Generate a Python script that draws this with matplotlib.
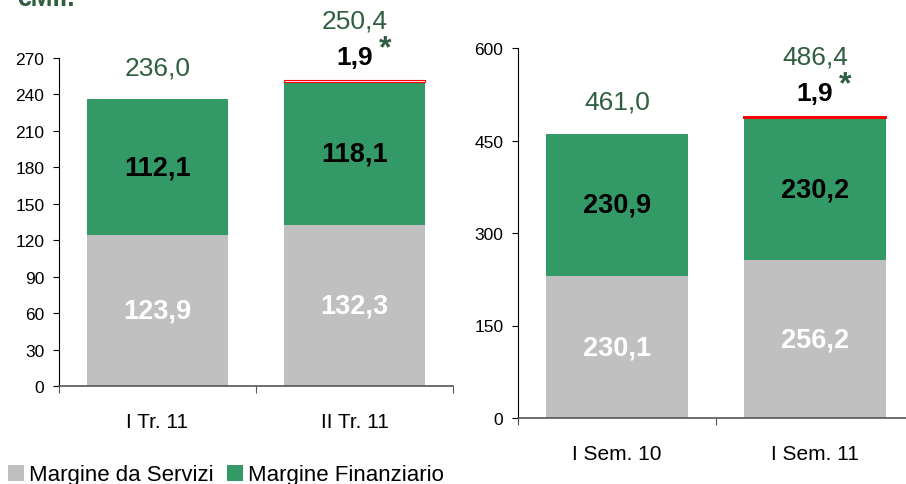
import matplotlib
matplotlib.use("Agg")
import matplotlib.pyplot as plt
from matplotlib.patches import Patch

plt.rcParams["font.family"] = ["Liberation Sans", "DejaVu Sans"]

# Quarterly data (€ million)
periods_q = ["I Tr. 11", "II Tr. 11"]
servizi_q = [123.9, 132.3]
finanziario_q = [112.1, 118.1]
totale_q = [236.0, 250.4]
extra_q = [0.0, 1.9]

# Half-year data (€ million)
periods_s = ["I Sem. 10", "I Sem. 11"]
servizi_s = [230.1, 256.2]
finanziario_s = [230.9, 230.2]
totale_s = [461.0, 486.4]
extra_s = [0.0, 1.9]

yticks_q = [0, 30, 60, 90, 120, 150, 180, 210, 240, 270]
yticks_s = [0, 150, 300, 450, 600]

GRAY = "#C0C0C0"
GREEN = "#339966"
DARK_GREEN = "#2F5E40"
RED = "#FF0000"
W = 0.72


def fmt(v):
    return f"{v:.1f}".replace(".", ",")


def draw_panel(ax, cats, serv, fin, tot, extra, yticks, extra_face, extra_lw):
    x = list(range(len(cats)))
    ax.bar(x, serv, W, color=GRAY, zorder=2)
    ax.bar(x, fin, W, bottom=serv, color=GREEN, zorder=2)
    for i in x:
        if extra[i] > 0:
            ax.bar(i, extra[i], W, bottom=tot[i], facecolor=extra_face,
                   edgecolor=RED, linewidth=extra_lw, zorder=3)
        ax.text(i, serv[i] / 2, fmt(serv[i]), ha="center", va="center",
                fontsize=19.5, fontweight="bold", color="white")
        ax.text(i, serv[i] + fin[i] / 2, fmt(fin[i]), ha="center",
                va="center", fontsize=19.5, fontweight="bold", color="black")
        if extra[i] > 0:
            ax.annotate(fmt(extra[i]), (i, tot[i]), xytext=(0, 18),
                        textcoords="offset points", ha="center", va="center",
                        fontsize=19, fontweight="bold", color="black",
                        annotation_clip=False)
            ax.annotate("*", (i, tot[i]), xytext=(22, 24),
                        textcoords="offset points", ha="center", va="center",
                        fontsize=23, fontweight="bold", color=DARK_GREEN,
                        annotation_clip=False)
            off = 44
        else:
            off = 23
        ax.annotate(fmt(tot[i]), (i, tot[i]), xytext=(0, off),
                    textcoords="offset points", ha="center", va="center",
                    fontsize=19, color=DARK_GREEN, annotation_clip=False)

    ax.set_xlim(-0.5, len(cats) - 0.5)
    ax.set_ylim(0, yticks[-1])
    ax.set_yticks(yticks)
    ax.set_yticklabels([str(t) for t in yticks])
    ax.tick_params(axis="y", direction="out", length=4.5, width=0.8,
                   pad=6, labelsize=12.5, colors="black")
    # boundary ticks on the category axis, labels at the bar centres
    ax.set_xticks([i - 0.5 for i in range(len(cats) + 1)])
    ax.set_xticklabels([])
    ax.tick_params(axis="x", which="major", direction="out", length=5,
                   width=0.8, color="#555555")
    ax.set_xticks(x, minor=True)
    ax.set_xticklabels(cats, minor=True)
    ax.tick_params(axis="x", which="minor", length=0, pad=19, labelsize=15)
    for s in ("top", "right"):
        ax.spines[s].set_visible(False)
    ax.spines["left"].set_linewidth(0.8)
    ax.spines["bottom"].set_linewidth(1.2)
    ax.spines["bottom"].set_color("#555555")
    ax.spines["left"].set_color("black")


fig = plt.figure(figsize=(9.06, 4.85), dpi=100)
ax1 = fig.add_axes([59 / 906, 1 - 387 / 485, 394 / 906, 328 / 485])
ax2 = fig.add_axes([518 / 906, 1 - 419 / 485, 396 / 906, 370 / 485])

draw_panel(ax1, periods_q, servizi_q, finanziario_q, totale_q, extra_q,
           yticks_q, "#FFF4F4", 0.8)
draw_panel(ax2, periods_s, servizi_s, finanziario_s, totale_s, extra_s,
           yticks_s, RED, 1.4)

fig.text(17 / 906, 1 - 6 / 485, "€Mil.", fontsize=19, fontweight="bold",
         color=DARK_GREEN, ha="left", va="baseline")

handles = [Patch(facecolor=GRAY, edgecolor="none"),
           Patch(facecolor=GREEN, edgecolor="none")]
fig.legend(handles, ["Margine da Servizi", "Margine Finanziario"],
           loc="center left", bbox_to_anchor=(8 / 906, 1 - 476 / 485),
           ncol=2, frameon=False, fontsize=16, handlelength=0.7,
           handleheight=0.7, handletextpad=0.25, columnspacing=0.6,
           borderaxespad=0, borderpad=0)

fig.savefig("out.png", dpi=100)
